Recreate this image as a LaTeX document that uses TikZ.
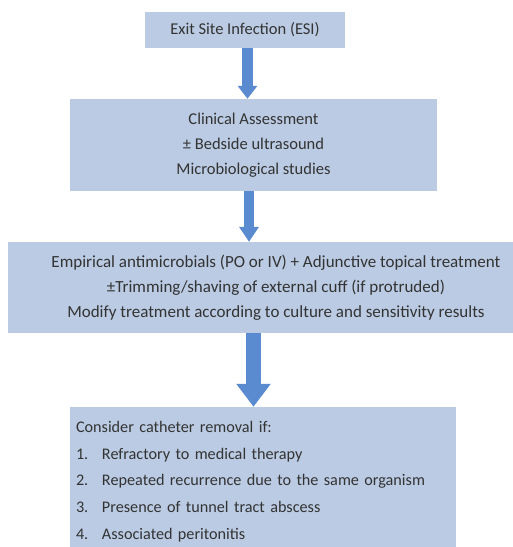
\documentclass[tikz,border=0pt]{standalone}
\usepackage{fontspec}
\setmainfont{Carlito}
\usetikzlibrary{arrows.meta}
\definecolor{boxfill}{HTML}{BACBE3}
\definecolor{arrowfill}{HTML}{5A8AD0}
\definecolor{txt}{HTML}{333333}
\begin{document}
\begin{tikzpicture}[x=1pt,y=-1pt,
  flowbox/.style={fill=boxfill,draw=none,inner sep=0pt,align=center,text=txt,
    font=\fontsize{16.5}{25}\selectfont},
  arrowsmall/.style={draw=arrowfill,line width=11pt,
    -{Triangle[width=19pt,length=13pt,fill=arrowfill]}},
  arrowmid/.style={draw=arrowfill,line width=10pt,
    -{Triangle[width=19pt,length=15pt,fill=arrowfill]}},
  arrowbig/.style={draw=arrowfill,line width=15pt,
    -{Triangle[width=33pt,length=23pt,fill=arrowfill]}}]
\useasboundingbox (0,0) rectangle (513,547);
\clip (0,0) rectangle (513,547);
\node[flowbox,minimum width=200pt,minimum height=36pt] (b1) at (245,30)
  {Exit Site Infection (ESI)};
\node[flowbox,minimum width=367pt,minimum height=92pt] (b2) at (253.5,145)
  {Clinical Assessment\\ ± Bedside ultrasound\\ Microbiological studies};
\node[flowbox,minimum width=536pt,minimum height=91pt,
  font=\fontsize{17}{25}\selectfont] (b3) at (276,287.5)
  {Empirical antimicrobials (PO or IV) + Adjunctive topical treatment\\
   ±Trimming/shaving of external cuff (if protruded)\\
   Modify treatment according to culture and sensitivity results};
\node[flowbox,minimum width=386pt,minimum height=149pt,text width=374pt,
  inner xsep=6pt,align=left,font=\fontsize{16.2}{26.7}\selectfont] (b4) at (263,481.5)
  {Consider catheter removal if:\\
   \makebox[26pt][l]{1.}Refractory to medical therapy\\
   \makebox[26pt][l]{2.}Repeated recurrence due to the same organism\\
   \makebox[26pt][l]{3.}Presence of tunnel tract abscess\\
   \makebox[26pt][l]{4.}Associated peritonitis};
\draw[arrowsmall] ([xshift=2.5pt]b1.south) -- ([xshift=2.5pt]b1.south |- b2.north);
\draw[arrowmid] ([xshift=-4.5pt]b2.south) -- ([xshift=-4.5pt]b2.south |- b3.north);
\draw[arrowbig] ([xshift=-22.5pt]b3.south) -- ([xshift=-22.5pt]b3.south |- b4.north);
\end{tikzpicture}
\end{document}
